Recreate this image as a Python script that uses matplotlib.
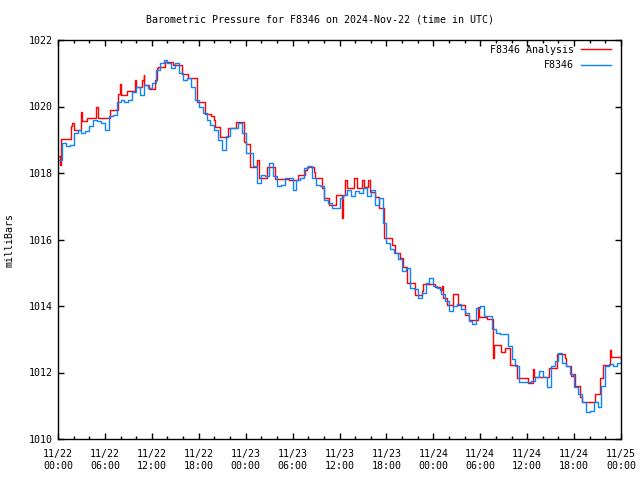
import numpy as np
import matplotlib
matplotlib.use("Agg")
import matplotlib.pyplot as plt
from matplotlib.ticker import MultipleLocator

# ---- data (hours since 2024-11-22 00:00 UTC) ----
obs_hours = np.arange(0, 72.01, 0.5)
obs_mbar = [
    1018.4, 1018.9, 1018.8, 1018.85, 1019.2, 1019.3, 1019.2, 1019.25, 1019.4, 1019.6,
    1019.55, 1019.5, 1019.3, 1019.7, 1019.75, 1020.15, 1020.2, 1020.15, 1020.2, 1020.45,
    1020.6, 1020.35, 1020.65, 1020.55, 1020.7, 1021.1, 1021.3, 1021.4, 1021.3, 1021.15,
    1021.3, 1021.0, 1020.8, 1020.85, 1020.6, 1020.2, 1020.0, 1019.8, 1019.6, 1019.45,
    1019.3, 1019.0, 1018.7, 1019.1, 1019.35, 1019.35, 1019.5, 1019.2, 1018.6, 1018.6,
    1018.2, 1017.7, 1017.95, 1017.9, 1018.3, 1017.9, 1017.6, 1017.65, 1017.85, 1017.85,
    1017.5, 1017.8, 1017.85, 1018.15, 1018.2, 1017.85, 1017.65, 1017.6, 1017.2, 1017.1,
    1016.95, 1016.95, 1017.25, 1017.35, 1017.5, 1017.3, 1017.45, 1017.4, 1017.55, 1017.3,
    1017.5, 1017.05, 1017.25, 1016.5, 1015.9, 1015.7, 1015.6, 1015.4, 1015.05, 1015.15,
    1014.55, 1014.5, 1014.25, 1014.4, 1014.7, 1014.85, 1014.6, 1014.55, 1014.35, 1014.15,
    1013.85, 1014.0, 1014.05, 1013.9, 1013.8, 1013.55, 1013.45, 1013.95, 1014.0, 1013.7,
    1013.7, 1013.3, 1013.2, 1013.15, 1013.15, 1012.8, 1012.4, 1012.2, 1011.7, 1011.7,
    1011.7, 1011.75, 1011.85, 1012.05, 1011.85, 1011.55, 1012.2, 1012.35, 1012.6, 1012.3,
    1012.2, 1011.95, 1011.55, 1011.35, 1011.1, 1010.8, 1010.85, 1011.1, 1010.95, 1011.6,
    1012.2, 1012.25, 1012.2, 1012.3, 1012.5,
]

ana_hours = [
    0.0, 0.2, 0.4, 1.66, 1.85, 2.0, 2.94, 3.05, 3.75, 4.9, 5.1, 6.65, 7.7, 7.9, 8.1,
    8.78, 9.85, 10.0, 10.7, 10.95, 11.05, 11.7, 12.4, 12.6, 12.8, 13.7, 14.7, 15.8,
    16.6, 17.76, 18.8, 19.6, 19.9, 20.1, 20.7, 21.8, 22.8, 23.8, 24.1, 24.6, 25.4,
    25.7, 26.7, 27.8, 29.6, 30.7, 31.6, 31.8, 32.7, 32.9, 33.8, 34.0, 34.6, 35.6,
    36.3, 36.5, 36.7, 36.9, 37.8, 38.2, 38.9, 39.1, 39.7, 39.9, 40.5, 41.1, 41.7,
    42.7, 43.1, 43.7, 44.1, 44.6, 45.7, 46.5, 46.7, 48.2, 48.8, 49.05, 49.2, 49.8,
    50.5, 51.1, 52.0, 52.6, 53.7, 53.9, 54.8, 55.6, 55.7, 56.7, 57.2, 57.8, 58.7,
    60.1, 60.8, 60.9, 62.8, 63.8, 64.8, 65.0, 65.6, 65.8, 66.1, 66.8, 67.0, 68.7,
    69.3, 69.7, 70.6, 70.7, 72.0,
]
ana_mbar = [
    1018.5, 1018.25, 1019.02, 1019.4, 1019.5, 1019.29, 1019.83, 1019.56, 1019.65, 1019.98,
    1019.65, 1019.89, 1020.38, 1020.68, 1020.35, 1020.47, 1020.8, 1020.6, 1020.8, 1020.95,
    1020.65, 1020.53, 1020.8, 1021.16, 1021.19, 1021.34, 1021.25, 1020.98, 1020.86, 1020.14,
    1019.77, 1019.7, 1019.6, 1019.38, 1019.08, 1019.35, 1019.53, 1018.93, 1018.87, 1018.18,
    1018.39, 1017.85, 1018.18, 1017.82, 1017.79, 1017.94, 1018.09, 1018.18, 1018.04, 1017.85,
    1017.55, 1017.25, 1017.04, 1017.34, 1016.65, 1017.34, 1017.8, 1017.55, 1017.85, 1017.55,
    1017.8, 1017.58, 1017.8, 1017.43, 1017.28, 1016.95, 1016.05, 1015.83, 1015.6, 1015.45,
    1015.17, 1014.69, 1014.33, 1014.45, 1014.66, 1014.57, 1014.48, 1014.6, 1014.24, 1014.03,
    1014.36, 1014.03, 1013.73, 1013.58, 1013.97, 1013.68, 1013.6, 1012.44, 1012.83, 1012.62,
    1012.74, 1012.23, 1011.83, 1011.68, 1012.1, 1011.86, 1012.13, 1012.56, 1012.45, 1012.2,
    1011.9, 1011.95, 1011.6, 1011.27, 1011.11, 1011.35, 1011.83, 1012.23, 1012.68, 1012.47,
    1012.47,
]

x_tick_labels = ["11/22\n00:00", "11/22\n06:00", "11/22\n12:00", "11/22\n18:00",
                 "11/23\n00:00", "11/23\n06:00", "11/23\n12:00", "11/23\n18:00",
                 "11/24\n00:00", "11/24\n06:00", "11/24\n12:00", "11/24\n18:00",
                 "11/25\n00:00"]
y_ticks = [1010, 1012, 1014, 1016, 1018, 1020, 1022]

# ---- plot ----
plt.rcParams['font.family'] = ['DejaVu Sans Mono']
fs = 7.2
fig = plt.figure(figsize=(6.4, 4.8), dpi=100)
ax = fig.add_axes([58/640, 1-439/480, (621-58)/640, (439-40)/480])

ax.plot(ana_hours, ana_mbar, drawstyle='steps-post', color='#ff0000', lw=1.0,
        label='F8346 Analysis')
ax.plot(obs_hours, obs_mbar, drawstyle='steps-post', color='#0a84ff', lw=1.0,
        label='F8346')

ax.set_xlim(0, 72)
ax.set_ylim(1010, 1022)
ax.set_xticks(np.arange(0, 72.01, 6))
ax.set_xticklabels(x_tick_labels, fontsize=fs, linespacing=1.25)
ax.xaxis.set_minor_locator(MultipleLocator(2))
ax.set_yticks(y_ticks)
ax.set_yticklabels([str(v) for v in y_ticks], fontsize=fs)

ax.tick_params(axis='x', which='major', pad=7)
ax.tick_params(axis='y', which='major', pad=4)
ax.tick_params(axis='both', which='major', direction='in', length=4.5, width=1,
               top=True, right=True, colors='black')
ax.tick_params(axis='both', which='minor', direction='in', length=2.2, width=1,
               top=True, right=True)
for s in ax.spines.values():
    s.set_linewidth(1.0)
    s.set_color('black')

fig.text(0.5, 1-19/480, 'Barometric Pressure for F8346 on 2024-Nov-22 (time in UTC)',
         ha='center', va='center', fontsize=fs)
fig.text(10/640, 1-240/480, 'milliBars', rotation=90, ha='center', va='center',
         fontsize=fs)

leg = ax.legend(loc='upper right', bbox_to_anchor=(0.982, 0.988), frameon=False,
                markerfirst=False, fontsize=fs, handlelength=3.0, handletextpad=0.7,
                labelspacing=0.55, borderaxespad=0, borderpad=0)

fig.savefig('out.png', dpi=100)
